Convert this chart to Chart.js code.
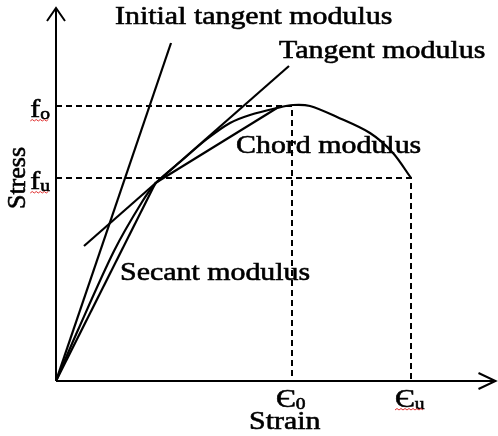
<!DOCTYPE html>
<html lang="en">
<head>
<meta charset="UTF-8">
<title>Stress-strain moduli</title>
<style>
  * { margin: 0; padding: 0; }
  body { background: #fff; }
  canvas { display: block; }
</style>
</head>
<body>
<canvas id="myChart" width="498" height="436"></canvas>
<script src="https://cdn.jsdelivr.net/npm/chart.js"></script>
<script>
// stress-strain curve (origin at bottom-left corner)
const curveStrain = [0, 22, 58, 86, 100, 124, 151, 174, 194, 221, 237, 254, 281, 314, 337, 355];
const curveStress = [0, 51, 130, 179, 198, 219, 242, 258, 266, 273, 276, 275, 264, 248, 228, 203];

// straight modulus lines, [start, end]
const initialTangentStrain = [0, 115];
const initialTangentStress = [0, 338];
const tangentStrain = [28, 233];
const tangentStress = [135, 315];
const secantStrain = [0, 100];
const secantStress = [0, 199];
const chordStrain = [101, 221];
const chordStress = [199, 273];

// reference levels
const peakStrain = 236;     // e0
const ultimateStrain = 355; // eu
const peakStress = 275;     // fo
const ultimateStress = 203; // fu

// tick labels
const strainTicks = [peakStrain, ultimateStrain];
const strainTickMain = ['\u0404', '\u0404'];
const strainTickSub = ['0', 'u'];
const stressTicks = [peakStress, ultimateStress];
const stressTickMain = ['f', 'f'];
const stressTickSub = ['o', 'u'];

// annotation texts and where they sit (data units, left/baseline)
const noteTexts = ['Initial tangent modulus', 'Tangent modulus', 'Chord modulus', 'Secant modulus'];
const noteStrain = [59, 223, 180, 64];
const noteStress = [357, 323, 228, 101];

const xMax = 440;
const yMax = 373;

function pts(xs, ys) {
  return xs.map((x, i) => ({ x: x, y: ys[i] }));
}

const FONT = '"Liberation Serif", "Times New Roman", serif';
const SX = 1.15; // text in the picture is a bit wide

function textWidth(ctx, t, size) {
  ctx.font = size + 'px ' + FONT;
  return ctx.measureText(t).width * SX;
}
function putText(ctx, t, x, y, size) {
  ctx.save();
  ctx.font = size + 'px ' + FONT;
  ctx.textAlign = 'left';
  ctx.textBaseline = 'alphabetic';
  ctx.translate(x, y);
  ctx.scale(SX, 1);
  ctx.lineWidth = 0.6;
  ctx.strokeStyle = '#000';
  ctx.fillText(t, 0, 0);
  ctx.strokeText(t, 0, 0);
  ctx.restore();
}
function putSub(ctx, main, sub, x, y) {
  putText(ctx, main, x, y, 26);
  putText(ctx, sub, x + textWidth(ctx, main, 26), y + 2, 17);
  return textWidth(ctx, main, 26) + textWidth(ctx, sub, 17);
}
function squiggle(ctx, x0, x1, y) {
  ctx.save();
  ctx.strokeStyle = '#e03030';
  ctx.lineWidth = 1;
  ctx.beginPath();
  let up = true;
  ctx.moveTo(x0, y);
  for (let x = x0 + 2; x <= x1; x += 2) {
    ctx.lineTo(x, up ? y - 1.5 : y);
    up = !up;
  }
  ctx.stroke();
  ctx.restore();
}

const decor = {
  id: 'decor',
  afterDraw(chart) {
    const ctx = chart.ctx;
    const xs = chart.scales.x, ys = chart.scales.y;
    const ox = xs.getPixelForValue(0), oy = ys.getPixelForValue(0);
    const tx = xs.getPixelForValue(xMax) - 0.5, ty = ys.getPixelForValue(yMax);

    ctx.save();
    ctx.strokeStyle = '#000';
    ctx.fillStyle = '#000';
    ctx.lineWidth = 2;
    // axes
    ctx.beginPath();
    ctx.moveTo(ox, oy); ctx.lineTo(ox, ty);
    ctx.moveTo(ox, oy); ctx.lineTo(tx, oy);
    ctx.stroke();
    // arrow heads
    ctx.beginPath();
    ctx.moveTo(ox - 9, ty + 13); ctx.lineTo(ox, ty); ctx.lineTo(ox + 9, ty + 13);
    ctx.moveTo(tx - 17, oy - 8); ctx.lineTo(tx, oy); ctx.lineTo(tx - 17, oy + 8);
    ctx.stroke();

    // y tick labels
    stressTicks.forEach((v, i) => {
      const py = ys.getPixelForValue(v);
      const w = textWidth(ctx, stressTickMain[i], 26) + textWidth(ctx, stressTickSub[i], 17);
      const left = ox - 6 - w;
      putSub(ctx, stressTickMain[i], stressTickSub[i], left, py + 11);
      squiggle(ctx, left, left + w, py + 15);
    });
    // x tick labels
    strainTicks.forEach((v, i) => {
      const px = xs.getPixelForValue(v);
      const left = px - 16;
      const w = putSub(ctx, strainTickMain[i], strainTickSub[i], left, oy + 26);
      if (i === 1) squiggle(ctx, left, left + w, oy + 29);
    });

    // axis titles
    putText(ctx, 'Strain', 249, 429, 26);
    ctx.save();
    ctx.font = '26px ' + FONT;
    ctx.textAlign = 'center';
    ctx.lineWidth = 0.6;
    ctx.translate(25, 178);
    ctx.rotate(-Math.PI / 2);
    ctx.fillText('Stress', 0, 0);
    ctx.strokeText('Stress', 0, 0);
    ctx.restore();

    // annotations
    noteTexts.forEach((t, i) => {
      putText(ctx, t, xs.getPixelForValue(noteStrain[i]), ys.getPixelForValue(noteStress[i]), 26);
    });
    ctx.restore();
  }
};

const solid = { showLine: true, borderColor: '#000', borderWidth: 2.2, pointRadius: 0, fill: false };
const dashed = Object.assign({}, solid, { borderWidth: 2, borderDash: [6, 4] });

const data = {
  datasets: [
    Object.assign({ label: 'fo', data: pts([0, peakStrain, peakStrain], [peakStress, peakStress, 0]) }, dashed),
    Object.assign({ label: 'fu', data: pts([0, ultimateStrain, ultimateStrain], [ultimateStress, ultimateStress, 0]) }, dashed),
    Object.assign({ label: 'Initial tangent modulus', data: pts(initialTangentStrain, initialTangentStress) }, solid),
    Object.assign({ label: 'Tangent modulus', data: pts(tangentStrain, tangentStress) }, solid),
    Object.assign({ label: 'Secant modulus', data: pts(secantStrain, secantStress) }, solid),
    Object.assign({ label: 'Chord modulus', data: pts(chordStrain, chordStress) }, solid),
    Object.assign({ label: 'Stress', data: pts(curveStrain, curveStress), tension: 0.3 }, solid)
  ]
};

const config = {
  type: 'scatter',
  data,
  options: {
    responsive: false,
    animation: false,
    layout: { padding: { left: 56, right: 2, top: 8, bottom: 55 } },
    plugins: { legend: { display: false }, tooltip: { enabled: false } },
    scales: {
      x: { type: 'linear', min: 0, max: xMax, display: false },
      y: { type: 'linear', min: 0, max: yMax, display: false }
    }
  },
  plugins: [decor]
};

const myChart = new Chart(document.getElementById('myChart'), config);
</script>
</body>
</html>
